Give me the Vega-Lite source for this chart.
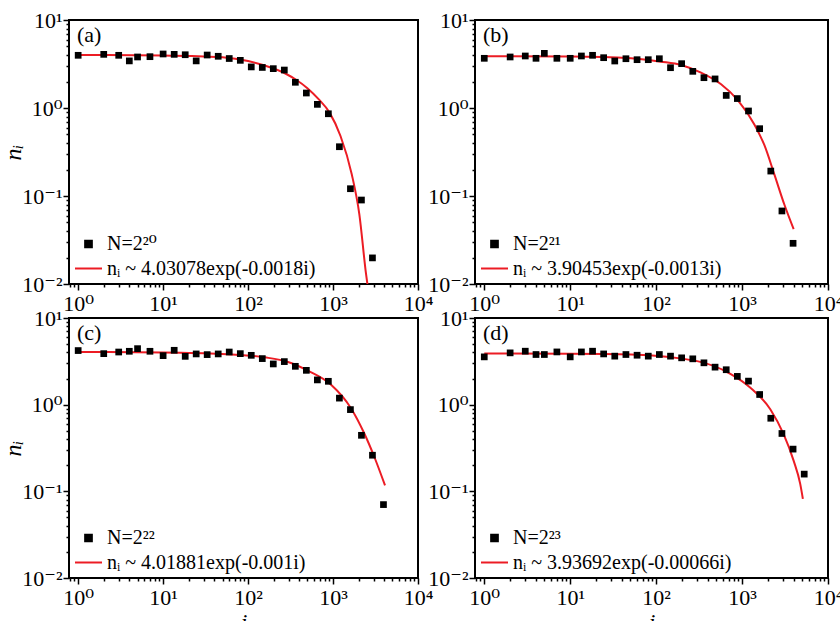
{
  "$schema": "https://vega.github.io/schema/vega-lite/v6.json",
  "background": "white",
  "padding": {"left": 0, "top": 8, "right": 5, "bottom": 0},
  "data": {"values": [
    {"p":"a","k":"pt","i":1,"n":3.97},{"p":"a","k":"pt","i":2,"n":4.07},{"p":"a","k":"pt","i":3,"n":3.97},{"p":"a","k":"pt","i":4,"n":3.43},{"p":"a","k":"pt","i":5,"n":3.8},{"p":"a","k":"pt","i":7,"n":3.83},{"p":"a","k":"pt","i":10,"n":4.11},{"p":"a","k":"pt","i":13.5,"n":4.07},{"p":"a","k":"pt","i":18.2,"n":4.03},{"p":"a","k":"pt","i":24.5,"n":3.43},{"p":"a","k":"pt","i":33,"n":4.0},{"p":"a","k":"pt","i":44.5,"n":3.87},{"p":"a","k":"pt","i":60,"n":3.65},{"p":"a","k":"pt","i":81,"n":3.48},{"p":"a","k":"pt","i":109,"n":2.93},{"p":"a","k":"pt","i":147,"n":2.89},{"p":"a","k":"pt","i":198,"n":2.8},{"p":"a","k":"pt","i":267,"n":2.7},{"p":"a","k":"pt","i":360,"n":1.96},{"p":"a","k":"pt","i":485,"n":1.48},{"p":"a","k":"pt","i":654,"n":1.1},{"p":"a","k":"pt","i":881,"n":0.86},{"p":"a","k":"pt","i":1188,"n":0.363},{"p":"a","k":"pt","i":1602,"n":0.121},{"p":"a","k":"pt","i":2159,"n":0.09},{"p":"a","k":"pt","i":2910,"n":0.0198},
    {"p":"a","k":"fit","i":1,"n":4.0},{"p":"a","k":"fit","i":10,"n":3.95},{"p":"a","k":"fit","i":30,"n":3.85},{"p":"a","k":"fit","i":50,"n":3.78},{"p":"a","k":"fit","i":100,"n":3.42},{"p":"a","k":"fit","i":150,"n":3.08},{"p":"a","k":"fit","i":278,"n":2.45},{"p":"a","k":"fit","i":371,"n":2.08},{"p":"a","k":"fit","i":499,"n":1.68},{"p":"a","k":"fit","i":676,"n":1.26},{"p":"a","k":"fit","i":910,"n":0.886},{"p":"a","k":"fit","i":1224,"n":0.481},{"p":"a","k":"fit","i":1660,"n":0.177},{"p":"a","k":"fit","i":2040,"n":0.062},{"p":"a","k":"fit","i":2445,"n":0.013},{"p":"a","k":"fit","i":2620,"n":0.008},
    {"p":"b","k":"pt","i":1,"n":3.67},{"p":"b","k":"pt","i":2,"n":3.8},{"p":"b","k":"pt","i":3,"n":3.9},{"p":"b","k":"pt","i":4,"n":3.67},{"p":"b","k":"pt","i":5,"n":4.18},{"p":"b","k":"pt","i":7,"n":3.67},{"p":"b","k":"pt","i":10,"n":3.67},{"p":"b","k":"pt","i":13.5,"n":3.9},{"p":"b","k":"pt","i":18.2,"n":3.97},{"p":"b","k":"pt","i":24.5,"n":3.73},{"p":"b","k":"pt","i":33,"n":3.42},{"p":"b","k":"pt","i":44.5,"n":3.63},{"p":"b","k":"pt","i":60,"n":3.54},{"p":"b","k":"pt","i":81,"n":3.54},{"p":"b","k":"pt","i":109,"n":3.63},{"p":"b","k":"pt","i":147,"n":2.87},{"p":"b","k":"pt","i":198,"n":3.19},{"p":"b","k":"pt","i":267,"n":2.61},{"p":"b","k":"pt","i":360,"n":2.21},{"p":"b","k":"pt","i":485,"n":2.14},{"p":"b","k":"pt","i":654,"n":1.39},{"p":"b","k":"pt","i":881,"n":1.28},{"p":"b","k":"pt","i":1188,"n":0.925},{"p":"b","k":"pt","i":1602,"n":0.582},{"p":"b","k":"pt","i":2159,"n":0.192},{"p":"b","k":"pt","i":2910,"n":0.0676},{"p":"b","k":"pt","i":3923,"n":0.029},
    {"p":"b","k":"fit","i":1,"n":3.87},{"p":"b","k":"fit","i":10,"n":3.84},{"p":"b","k":"fit","i":51,"n":3.67},{"p":"b","k":"fit","i":114,"n":3.36},{"p":"b","k":"fit","i":195,"n":3.08},{"p":"b","k":"fit","i":333,"n":2.52},{"p":"b","k":"fit","i":570,"n":1.86},{"p":"b","k":"fit","i":891,"n":1.23},{"p":"b","k":"fit","i":1390,"n":0.65},{"p":"b","k":"fit","i":1815,"n":0.38},{"p":"b","k":"fit","i":2375,"n":0.176},{"p":"b","k":"fit","i":3105,"n":0.08},{"p":"b","k":"fit","i":3985,"n":0.042},
    {"p":"c","k":"pt","i":1,"n":4.21},{"p":"c","k":"pt","i":2,"n":3.88},{"p":"c","k":"pt","i":3,"n":4.05},{"p":"c","k":"pt","i":4,"n":4.13},{"p":"c","k":"pt","i":5,"n":4.43},{"p":"c","k":"pt","i":7,"n":4.13},{"p":"c","k":"pt","i":10,"n":3.68},{"p":"c","k":"pt","i":13.5,"n":4.24},{"p":"c","k":"pt","i":18.2,"n":3.61},{"p":"c","k":"pt","i":24.5,"n":3.85},{"p":"c","k":"pt","i":33,"n":3.78},{"p":"c","k":"pt","i":44.5,"n":3.85},{"p":"c","k":"pt","i":60,"n":4.05},{"p":"c","k":"pt","i":81,"n":3.88},{"p":"c","k":"pt","i":109,"n":3.71},{"p":"c","k":"pt","i":147,"n":3.4},{"p":"c","k":"pt","i":198,"n":2.95},{"p":"c","k":"pt","i":267,"n":3.14},{"p":"c","k":"pt","i":360,"n":2.77},{"p":"c","k":"pt","i":485,"n":2.49},{"p":"c","k":"pt","i":654,"n":1.93},{"p":"c","k":"pt","i":881,"n":1.86},{"p":"c","k":"pt","i":1188,"n":1.19},{"p":"c","k":"pt","i":1602,"n":0.877},{"p":"c","k":"pt","i":2159,"n":0.443},{"p":"c","k":"pt","i":2910,"n":0.261},{"p":"c","k":"pt","i":3923,"n":0.0703},
    {"p":"c","k":"fit","i":1,"n":4.05},{"p":"c","k":"fit","i":10,"n":4.0},{"p":"c","k":"fit","i":49,"n":3.85},{"p":"c","k":"fit","i":157,"n":3.52},{"p":"c","k":"fit","i":295,"n":3.11},{"p":"c","k":"fit","i":506,"n":2.47},{"p":"c","k":"fit","i":948,"n":1.7},{"p":"c","k":"fit","i":1620,"n":0.917},{"p":"c","k":"fit","i":2320,"n":0.471},{"p":"c","k":"fit","i":3040,"n":0.254},{"p":"c","k":"fit","i":4090,"n":0.117},
    {"p":"d","k":"pt","i":1,"n":3.56},{"p":"d","k":"pt","i":2,"n":3.96},{"p":"d","k":"pt","i":3,"n":4.14},{"p":"d","k":"pt","i":4,"n":3.79},{"p":"d","k":"pt","i":5,"n":3.79},{"p":"d","k":"pt","i":7,"n":4.06},{"p":"d","k":"pt","i":10,"n":3.56},{"p":"d","k":"pt","i":13.5,"n":4.06},{"p":"d","k":"pt","i":18.2,"n":4.14},{"p":"d","k":"pt","i":24.5,"n":3.85},{"p":"d","k":"pt","i":33,"n":3.63},{"p":"d","k":"pt","i":44.5,"n":3.79},{"p":"d","k":"pt","i":60,"n":3.72},{"p":"d","k":"pt","i":81,"n":3.63},{"p":"d","k":"pt","i":109,"n":3.79},{"p":"d","k":"pt","i":147,"n":3.63},{"p":"d","k":"pt","i":198,"n":3.47},{"p":"d","k":"pt","i":267,"n":3.38},{"p":"d","k":"pt","i":360,"n":3.04},{"p":"d","k":"pt","i":485,"n":2.71},{"p":"d","k":"pt","i":654,"n":2.53},{"p":"d","k":"pt","i":881,"n":2.12},{"p":"d","k":"pt","i":1188,"n":1.87},{"p":"d","k":"pt","i":1602,"n":1.31},{"p":"d","k":"pt","i":2159,"n":0.697},{"p":"d","k":"pt","i":2910,"n":0.465},{"p":"d","k":"pt","i":3923,"n":0.307},{"p":"d","k":"pt","i":5288,"n":0.158},
    {"p":"d","k":"fit","i":1,"n":3.9},{"p":"d","k":"fit","i":10,"n":3.88},{"p":"d","k":"fit","i":51,"n":3.8},{"p":"d","k":"fit","i":300,"n":3.18},{"p":"d","k":"fit","i":731,"n":2.27},{"p":"d","k":"fit","i":1250,"n":1.57},{"p":"d","k":"fit","i":2130,"n":0.886},{"p":"d","k":"fit","i":3043,"n":0.457},{"p":"d","k":"fit","i":3980,"n":0.226},{"p":"d","k":"fit","i":4750,"n":0.122},{"p":"d","k":"fit","i":5100,"n":0.082}
  ]},
  "columns": 2,
  "bounds": "flush",
  "spacing": {"row": 34, "column": 57},
  "resolve": {"scale": {"x": "independent", "y": "independent", "shape": "independent", "color": "independent", "size": "independent"}, "legend": {"shape": "independent", "color": "independent", "size": "independent"}},
  "concat": [
    {
      "width": 349, "height": 264,
      "title": {"text": "(a)"},
      "layer": [
        {"transform": [{"filter": "datum.p=='a' && datum.k=='fit'"}],
         "mark": {"type": "line", "strokeWidth": 2, "clip": true, "interpolate": "monotone"},
         "encoding": {
           "x": {"field": "i", "type": "quantitative", "scale": {"type": "log", "domain": [0.78, 10000]}, "axis": {"title": null, "values": [0.8,0.9,1,2,3,4,5,6,7,8,9,10,20,30,40,50,60,70,80,90,100,200,300,400,500,600,700,800,900,1000,2000,3000,4000,5000,6000,7000,8000,9000,10000], "labelExpr": "datum.value==1?'10⁰':datum.value==10?'10¹':datum.value==100?'10²':datum.value==1000?'10³':datum.value==10000?'10⁴':''", "tickSize": {"condition": {"test": "indexof([1,10,100,1000,10000], datum.value) >= 0", "value": 6}, "value": 3}}},
           "y": {"field": "n", "type": "quantitative", "scale": {"type": "log", "domain": [0.01, 10]}, "axis": {"title": "nᵢ", "values": [0.01,0.02,0.03,0.04,0.05,0.06,0.07,0.08,0.09,0.1,0.2,0.3,0.4,0.5,0.6,0.7,0.8,0.9,1,2,3,4,5,6,7,8,9,10], "labelExpr": "datum.value==0.01?'10⁻²':datum.value==0.1?'10⁻¹':datum.value==1?'10⁰':datum.value==10?'10¹':''", "tickSize": {"condition": {"test": "indexof([0.01,0.1,1,10], datum.value) >= 0", "value": 6}, "value": 3}}},
           "color": {"datum": "nᵢ ~ 4.03078exp(-0.0018i)", "scale": {"domain": ["N=2²⁰", "nᵢ ~ 4.03078exp(-0.0018i)"], "range": ["black", "#ec1c24"]}, "legend": {"title": null}}
         }},
        {"transform": [{"filter": "datum.p=='a' && datum.k=='pt'"}],
         "mark": {"type": "point", "filled": true, "opacity": 1},
         "encoding": {
           "x": {"field": "i", "type": "quantitative", "scale": {"type": "log", "domain": [0.78, 10000]}},
           "y": {"field": "n", "type": "quantitative", "scale": {"type": "log", "domain": [0.01, 10]}},
           "color": {"datum": "N=2²⁰", "scale": {"domain": ["N=2²⁰", "nᵢ ~ 4.03078exp(-0.0018i)"], "range": ["black", "#ec1c24"]}, "legend": {"title": null}},
           "shape": {"datum": "N=2²⁰", "scale": {"domain": ["N=2²⁰", "nᵢ ~ 4.03078exp(-0.0018i)"], "range": ["square", "stroke"]}, "legend": {"title": null}},
           "size": {"datum": "N=2²⁰", "scale": {"type": "ordinal", "domain": ["N=2²⁰", "nᵢ ~ 4.03078exp(-0.0018i)"], "range": [45, 729]}, "legend": {"title": null}}
         }}
      ]
    },
    {
      "width": 353, "height": 264,
      "title": {"text": "(b)"},
      "layer": [
        {"transform": [{"filter": "datum.p=='b' && datum.k=='fit'"}],
         "mark": {"type": "line", "strokeWidth": 2, "clip": true, "interpolate": "monotone"},
         "encoding": {
           "x": {"field": "i", "type": "quantitative", "scale": {"type": "log", "domain": [0.78, 10000]}, "axis": {"title": null, "values": [0.8,0.9,1,2,3,4,5,6,7,8,9,10,20,30,40,50,60,70,80,90,100,200,300,400,500,600,700,800,900,1000,2000,3000,4000,5000,6000,7000,8000,9000,10000], "labelExpr": "datum.value==1?'10⁰':datum.value==10?'10¹':datum.value==100?'10²':datum.value==1000?'10³':datum.value==10000?'10⁴':''", "tickSize": {"condition": {"test": "indexof([1,10,100,1000,10000], datum.value) >= 0", "value": 6}, "value": 3}}},
           "y": {"field": "n", "type": "quantitative", "scale": {"type": "log", "domain": [0.01, 10]}, "axis": {"title": null, "values": [0.01,0.02,0.03,0.04,0.05,0.06,0.07,0.08,0.09,0.1,0.2,0.3,0.4,0.5,0.6,0.7,0.8,0.9,1,2,3,4,5,6,7,8,9,10], "labelExpr": "datum.value==0.01?'10⁻²':datum.value==0.1?'10⁻¹':datum.value==1?'10⁰':datum.value==10?'10¹':''", "tickSize": {"condition": {"test": "indexof([0.01,0.1,1,10], datum.value) >= 0", "value": 6}, "value": 3}}},
           "color": {"datum": "nᵢ ~ 3.90453exp(-0.0013i)", "scale": {"domain": ["N=2²¹", "nᵢ ~ 3.90453exp(-0.0013i)"], "range": ["black", "#ec1c24"]}, "legend": {"title": null}}
         }},
        {"transform": [{"filter": "datum.p=='b' && datum.k=='pt'"}],
         "mark": {"type": "point", "filled": true, "opacity": 1},
         "encoding": {
           "x": {"field": "i", "type": "quantitative", "scale": {"type": "log", "domain": [0.78, 10000]}},
           "y": {"field": "n", "type": "quantitative", "scale": {"type": "log", "domain": [0.01, 10]}},
           "color": {"datum": "N=2²¹", "scale": {"domain": ["N=2²¹", "nᵢ ~ 3.90453exp(-0.0013i)"], "range": ["black", "#ec1c24"]}, "legend": {"title": null}},
           "shape": {"datum": "N=2²¹", "scale": {"domain": ["N=2²¹", "nᵢ ~ 3.90453exp(-0.0013i)"], "range": ["square", "stroke"]}, "legend": {"title": null}},
           "size": {"datum": "N=2²¹", "scale": {"type": "ordinal", "domain": ["N=2²¹", "nᵢ ~ 3.90453exp(-0.0013i)"], "range": [45, 729]}, "legend": {"title": null}}
         }}
      ]
    },
    {
      "width": 349, "height": 260,
      "title": {"text": "(c)"},
      "layer": [
        {"transform": [{"filter": "datum.p=='c' && datum.k=='fit'"}],
         "mark": {"type": "line", "strokeWidth": 2, "clip": true, "interpolate": "monotone"},
         "encoding": {
           "x": {"field": "i", "type": "quantitative", "scale": {"type": "log", "domain": [0.78, 10000]}, "axis": {"title": "i", "values": [0.8,0.9,1,2,3,4,5,6,7,8,9,10,20,30,40,50,60,70,80,90,100,200,300,400,500,600,700,800,900,1000,2000,3000,4000,5000,6000,7000,8000,9000,10000], "labelExpr": "datum.value==1?'10⁰':datum.value==10?'10¹':datum.value==100?'10²':datum.value==1000?'10³':datum.value==10000?'10⁴':''", "tickSize": {"condition": {"test": "indexof([1,10,100,1000,10000], datum.value) >= 0", "value": 6}, "value": 3}}},
           "y": {"field": "n", "type": "quantitative", "scale": {"type": "log", "domain": [0.01, 10]}, "axis": {"title": "nᵢ", "values": [0.01,0.02,0.03,0.04,0.05,0.06,0.07,0.08,0.09,0.1,0.2,0.3,0.4,0.5,0.6,0.7,0.8,0.9,1,2,3,4,5,6,7,8,9,10], "labelExpr": "datum.value==0.01?'10⁻²':datum.value==0.1?'10⁻¹':datum.value==1?'10⁰':datum.value==10?'10¹':''", "tickSize": {"condition": {"test": "indexof([0.01,0.1,1,10], datum.value) >= 0", "value": 6}, "value": 3}}},
           "color": {"datum": "nᵢ ~ 4.01881exp(-0.001i)", "scale": {"domain": ["N=2²²", "nᵢ ~ 4.01881exp(-0.001i)"], "range": ["black", "#ec1c24"]}, "legend": {"title": null}}
         }},
        {"transform": [{"filter": "datum.p=='c' && datum.k=='pt'"}],
         "mark": {"type": "point", "filled": true, "opacity": 1},
         "encoding": {
           "x": {"field": "i", "type": "quantitative", "scale": {"type": "log", "domain": [0.78, 10000]}},
           "y": {"field": "n", "type": "quantitative", "scale": {"type": "log", "domain": [0.01, 10]}},
           "color": {"datum": "N=2²²", "scale": {"domain": ["N=2²²", "nᵢ ~ 4.01881exp(-0.001i)"], "range": ["black", "#ec1c24"]}, "legend": {"title": null}},
           "shape": {"datum": "N=2²²", "scale": {"domain": ["N=2²²", "nᵢ ~ 4.01881exp(-0.001i)"], "range": ["square", "stroke"]}, "legend": {"title": null}},
           "size": {"datum": "N=2²²", "scale": {"type": "ordinal", "domain": ["N=2²²", "nᵢ ~ 4.01881exp(-0.001i)"], "range": [45, 729]}, "legend": {"title": null}}
         }}
      ]
    },
    {
      "width": 353, "height": 260,
      "title": {"text": "(d)"},
      "layer": [
        {"transform": [{"filter": "datum.p=='d' && datum.k=='fit'"}],
         "mark": {"type": "line", "strokeWidth": 2, "clip": true, "interpolate": "monotone"},
         "encoding": {
           "x": {"field": "i", "type": "quantitative", "scale": {"type": "log", "domain": [0.78, 10000]}, "axis": {"title": "i", "values": [0.8,0.9,1,2,3,4,5,6,7,8,9,10,20,30,40,50,60,70,80,90,100,200,300,400,500,600,700,800,900,1000,2000,3000,4000,5000,6000,7000,8000,9000,10000], "labelExpr": "datum.value==1?'10⁰':datum.value==10?'10¹':datum.value==100?'10²':datum.value==1000?'10³':datum.value==10000?'10⁴':''", "tickSize": {"condition": {"test": "indexof([1,10,100,1000,10000], datum.value) >= 0", "value": 6}, "value": 3}}},
           "y": {"field": "n", "type": "quantitative", "scale": {"type": "log", "domain": [0.01, 10]}, "axis": {"title": null, "values": [0.01,0.02,0.03,0.04,0.05,0.06,0.07,0.08,0.09,0.1,0.2,0.3,0.4,0.5,0.6,0.7,0.8,0.9,1,2,3,4,5,6,7,8,9,10], "labelExpr": "datum.value==0.01?'10⁻²':datum.value==0.1?'10⁻¹':datum.value==1?'10⁰':datum.value==10?'10¹':''", "tickSize": {"condition": {"test": "indexof([0.01,0.1,1,10], datum.value) >= 0", "value": 6}, "value": 3}}},
           "color": {"datum": "nᵢ ~ 3.93692exp(-0.00066i)", "scale": {"domain": ["N=2²³", "nᵢ ~ 3.93692exp(-0.00066i)"], "range": ["black", "#ec1c24"]}, "legend": {"title": null}}
         }},
        {"transform": [{"filter": "datum.p=='d' && datum.k=='pt'"}],
         "mark": {"type": "point", "filled": true, "opacity": 1},
         "encoding": {
           "x": {"field": "i", "type": "quantitative", "scale": {"type": "log", "domain": [0.78, 10000]}},
           "y": {"field": "n", "type": "quantitative", "scale": {"type": "log", "domain": [0.01, 10]}},
           "color": {"datum": "N=2²³", "scale": {"domain": ["N=2²³", "nᵢ ~ 3.93692exp(-0.00066i)"], "range": ["black", "#ec1c24"]}, "legend": {"title": null}},
           "shape": {"datum": "N=2²³", "scale": {"domain": ["N=2²³", "nᵢ ~ 3.93692exp(-0.00066i)"], "range": ["square", "stroke"]}, "legend": {"title": null}},
           "size": {"datum": "N=2²³", "scale": {"type": "ordinal", "domain": ["N=2²³", "nᵢ ~ 3.93692exp(-0.00066i)"], "range": [45, 729]}, "legend": {"title": null}}
         }}
      ]
    }
  ],
  "config": {
    "view": {"stroke": "black", "strokeWidth": 2},
    "axis": {"grid": false, "domain": false, "tickColor": "black", "tickWidth": 1.5, "labelFont": "Liberation Serif, DejaVu Serif", "labelFontSize": 22, "labelColor": "black", "labelPadding": 1, "labelOverlap": false, "labelFlush": false, "labelBound": false, "titleFont": "Liberation Serif, DejaVu Serif", "titleFontSize": 24, "titleFontStyle": "italic", "titleFontWeight": "normal", "titleColor": "black"},
    "axisX": {"labelPadding": 3, "titlePadding": 2},
    "axisY": {"titlePadding": -4},
    "title": {"anchor": "start", "frame": "group", "offset": -38, "dx": 8, "font": "Liberation Serif, DejaVu Serif", "fontSize": 22, "fontWeight": "normal", "color": "black"},
    "legend": {"title": null, "orient": "bottom-left", "offset": 5, "padding": 0, "rowPadding": -4, "labelOffset": 4, "labelFont": "Liberation Serif, DejaVu Serif", "labelFontSize": 20, "labelColor": "black", "labelLimit": 0, "symbolStrokeWidth": 2, "symbolOpacity": 1}
  }
}
